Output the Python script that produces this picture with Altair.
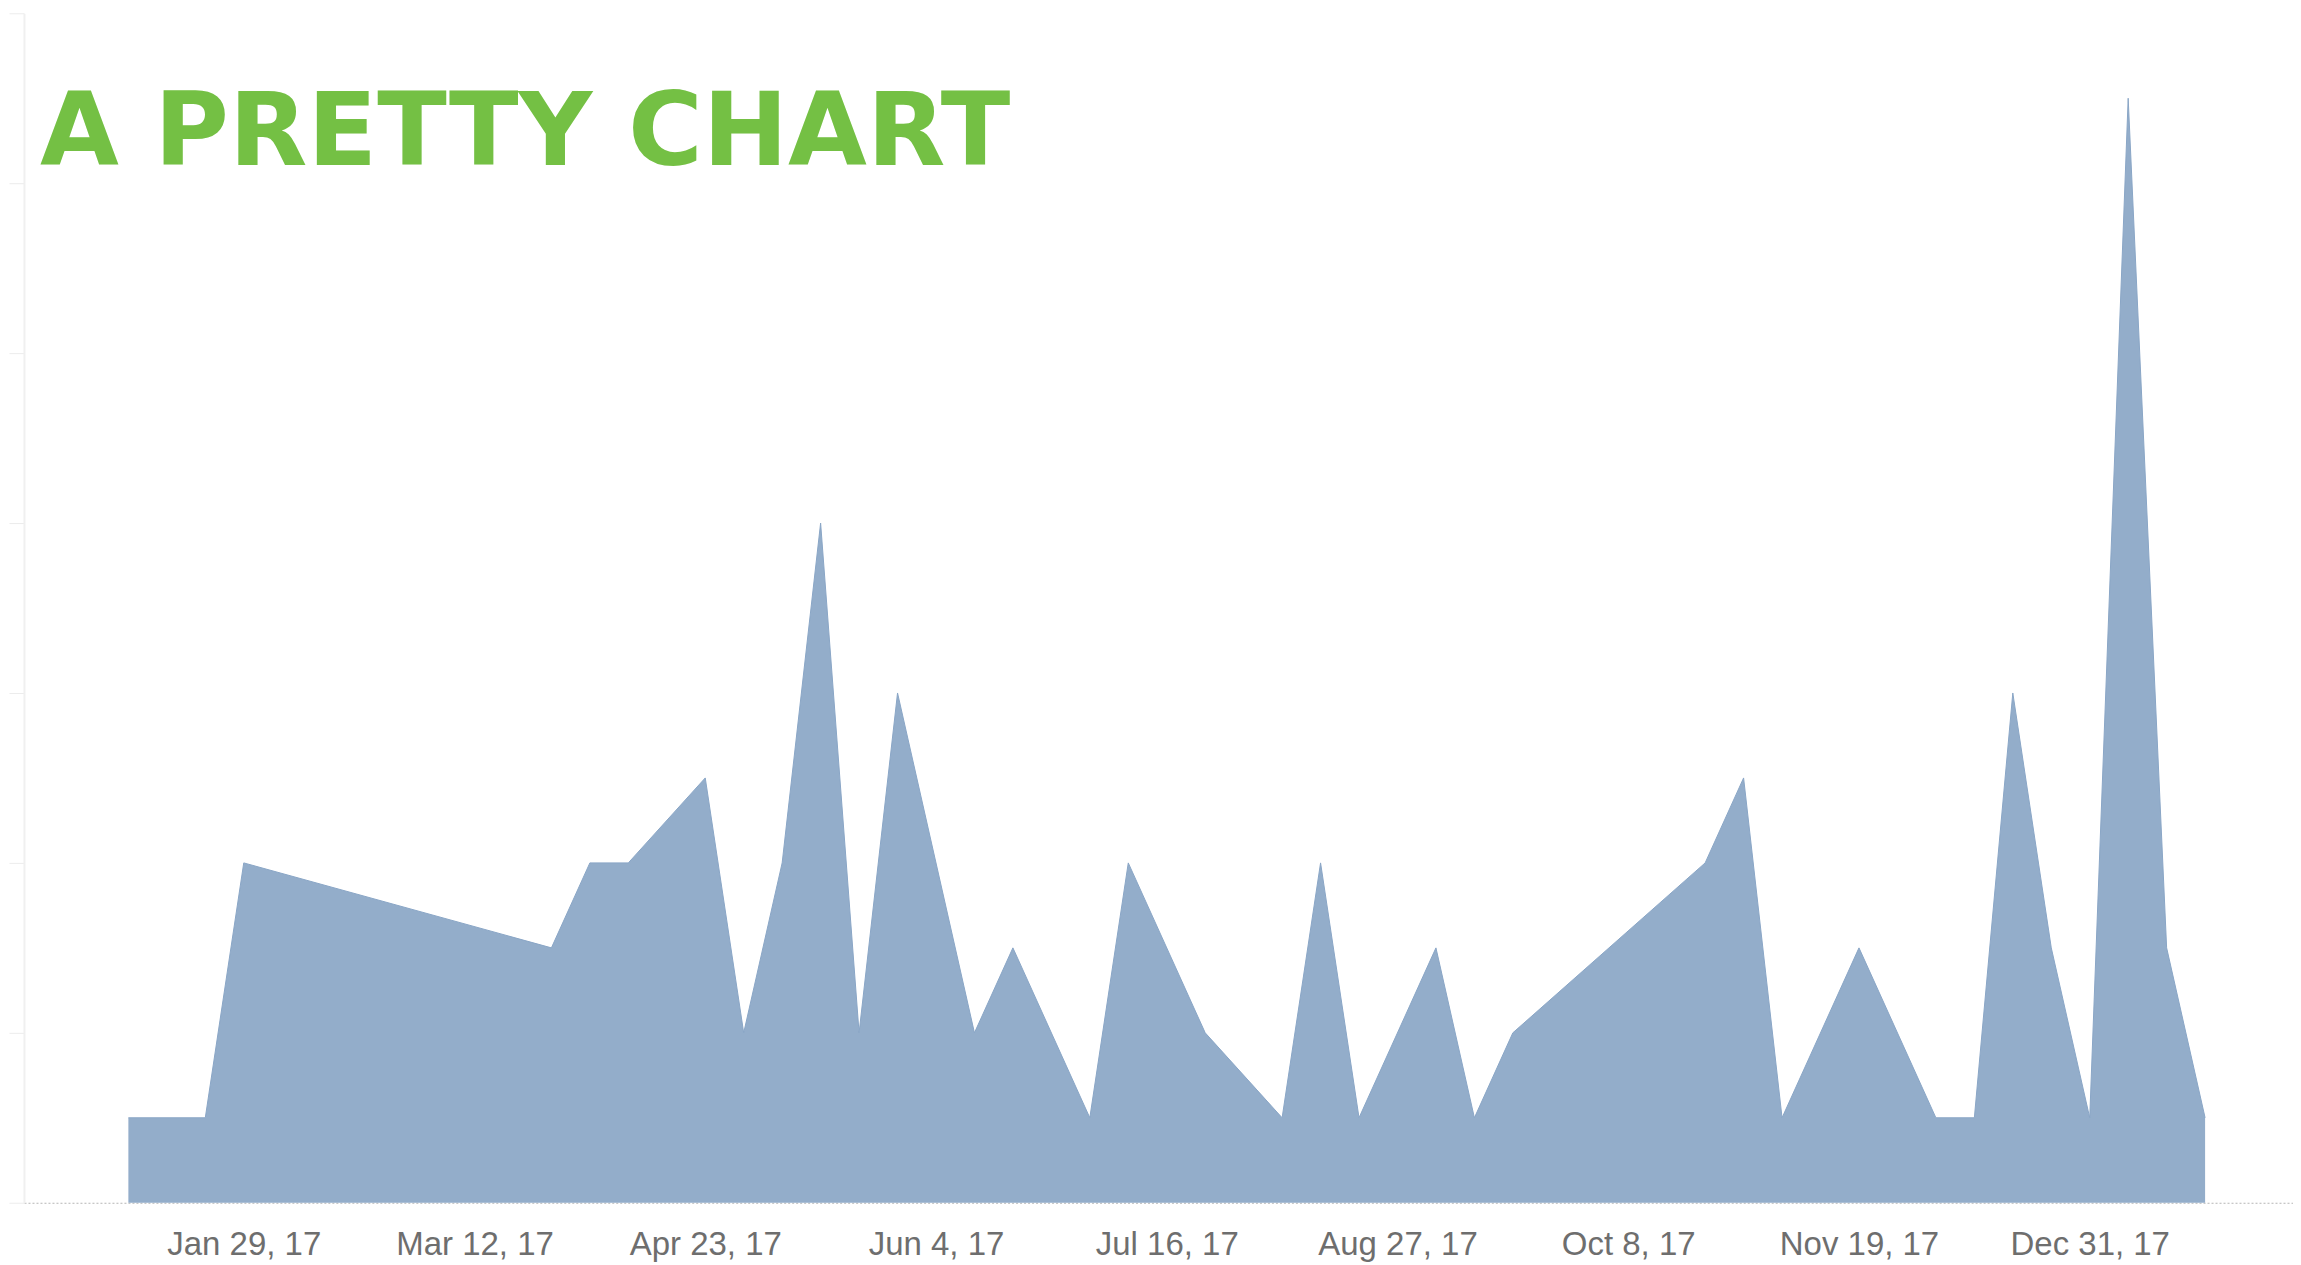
import altair as alt
import pandas as pd

TITLE = "A PRETTY CHART"

dates = [
    "2017-01-08", "2017-01-22", "2017-01-29", "2017-03-26", "2017-04-02",
    "2017-04-09", "2017-04-23", "2017-04-30", "2017-05-07", "2017-05-14",
    "2017-05-21", "2017-05-28", "2017-06-11", "2017-06-18", "2017-07-02",
    "2017-07-09", "2017-07-23", "2017-08-06", "2017-08-13", "2017-08-20",
    "2017-09-03", "2017-09-10", "2017-09-17", "2017-10-22", "2017-10-29",
    "2017-11-05", "2017-11-19", "2017-12-03", "2017-12-10", "2017-12-17",
    "2017-12-24", "2017-12-31", "2018-01-07", "2018-01-14", "2018-01-21",
]
values = [
    1, 1, 4, 3, 4,
    4, 5, 2, 4, 8,
    2, 6, 2, 3, 1,
    4, 2, 1, 4, 1,
    3, 1, 2, 4, 5,
    1, 3, 1, 1, 6,
    3, 1, 13, 3, 1,
]

tick_dates = [
    (2017, 1, 29), (2017, 3, 12), (2017, 4, 23), (2017, 6, 4), (2017, 7, 16),
    (2017, 8, 27), (2017, 10, 8), (2017, 11, 19), (2017, 12, 31),
]
y_ticks = [0, 2, 4, 6, 8, 10, 12, 14]

df = pd.DataFrame({"date": [d + "T00:00:00" for d in dates], "value": values})
title_df = pd.DataFrame({"title": [TITLE]})

x_scale = alt.Scale(
    domain=[alt.DateTime(year=2016, month=12, date=20),
            alt.DateTime(year=2018, month=2, date=6)],
    nice=False,
)

area = (
    alt.Chart(df)
    .mark_area(color="#93adca", opacity=1, line={"color": "#8aa6c6", "strokeWidth": 1})
    .encode(
        x=alt.X(
            "date:T",
            scale=x_scale,
            title=None,
            axis=alt.Axis(
                values=[alt.DateTime(year=y, month=m, date=d) for (y, m, d) in tick_dates],
                labelExpr="timeFormat(datum.value, '%b %-d, %y')",
                grid=False,
                ticks=False,
                domain=True,
                domainColor="#b5b5b5",
                domainDash=[2, 2],
                domainWidth=1,
                labelFont="Liberation Sans",
                labelFontSize=33,
                labelColor="#6e6e6e",
                labelPadding=26,
                labelFlush=False,
                labelOverlap=False,
            ),
        ),
        y=alt.Y(
            "value:Q",
            scale=alt.Scale(domain=[0, 14], nice=False),
            title=None,
            axis=alt.Axis(
                values=y_ticks,
                labels=False,
                grid=False,
                ticks=True,
                tickSize=15,
                tickColor="#ececec",
                domainColor="#f0f0f0",
                domainWidth=2,
            ),
        ),
    )
)

title_text = (
    alt.Chart(title_df)
    .mark_text(
        align="left",
        baseline="alphabetic",
        font="DejaVu Sans",
        fontWeight="bold",
        fontSize=102,
        color="#74c044",
    )
    .encode(text="title:N", x=alt.value(16), y=alt.value(152))
)

chart = (
    alt.layer(area, title_text)
    .properties(
        width=2270,
        height=1190,
        padding={"top": 4, "left": 0, "right": 0, "bottom": 0},
    )
    .configure_view(stroke=None)
)

chart.save("out.html", embed_options={"renderer": "svg", "actions": False})
